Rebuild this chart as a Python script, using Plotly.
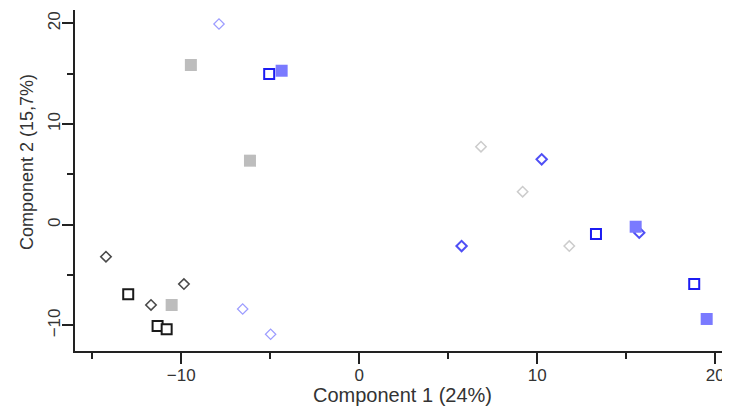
import plotly.graph_objects as go

# Component 1 / Component 2 scores per group
black_sq_x = [-12.98, -11.33, -10.82]
black_sq_y = [-6.91, -10.06, -10.39]

dgray_dia_x = [-14.23, -9.85, -11.70]
dgray_dia_y = [-3.18, -5.89, -7.97]

lgray_sq_x = [-9.46, -6.14, -10.54]
lgray_sq_y = [15.86, 6.36, -7.97]

lgray_dia_x = [6.84, 9.18, 11.80]
lgray_dia_y = [7.75, 3.28, -2.12]

lav_dia_x = [-7.88, -6.55, -4.98]
lav_dia_y = [19.93, -8.37, -10.88]

blue_dia_x = [10.25, 5.75, 15.73]
blue_dia_y = [6.49, -2.12, -0.79]

blue_fill_sq_x = [-4.36, 15.53, 19.52]
blue_fill_sq_y = [15.29, -0.20, -9.36]

blue_open_sq_x = [-5.06, 13.30, 18.82]
blue_open_sq_y = [14.97, -0.92, -5.89]

x_title = "Component 1 (24%)"
y_title = "Component 2 (15,7%)"

FONT = "Liberation Sans, Arial, sans-serif"

fig = go.Figure()

def add(x, y, symbol, size, fill, line_color, line_width):
    fig.add_trace(go.Scatter(
        x=x, y=y, mode="markers", showlegend=False,
        marker=dict(symbol=symbol, size=size, color=fill,
                    line=dict(color=line_color, width=line_width)),
    ))

add(lgray_dia_x, lgray_dia_y, "diamond", 8, "white", "#cccccc", 1.5)
add(lav_dia_x, lav_dia_y, "diamond", 8, "white", "#9c9cff", 1.2)
add(dgray_dia_x, dgray_dia_y, "diamond", 8, "white", "#4a4a4a", 1.6)
add(lgray_sq_x, lgray_sq_y, "square", 12, "#bdbdbd", "#bdbdbd", 0)
add(blue_dia_x, blue_dia_y, "diamond", 8, "white", "#4f4ff5", 2)
add(blue_fill_sq_x, blue_fill_sq_y, "square", 12, "#7a7aff", "#7a7aff", 0)
add(blue_open_sq_x, blue_open_sq_y, "square", 10, "white", "#1c1cf2", 2)
add(black_sq_x, black_sq_y, "square", 10, "white", "#1a1a1a", 2)

axis_common = dict(
    showgrid=False, zeroline=False, showline=True, linecolor="#222",
    linewidth=1.5, ticks="outside", ticklen=11, tickwidth=1.5, tickcolor="#222",
    dtick=10, tick0=0, automargin=False,
    minor=dict(ticks="outside", ticklen=6, tickwidth=1.5, tickcolor="#222", dtick=5, tick0=0),
    tickfont=dict(family=FONT, size=17, color="#333"),
)

# the page body has an 8px default margin, so the figure is sized to fit
fig.update_layout(
    width=722, height=398,
    margin=dict(l=67, r=0, t=2, b=55),
    paper_bgcolor="white", plot_bgcolor="white",
    font=dict(family=FONT, color="#333"),
    xaxis=dict(range=[-15.97, 20.83], ticklabelstandoff=-3,
               title=dict(text=x_title, font=dict(size=20), standoff=3), **axis_common),
    yaxis=dict(range=[-12.54, 21.32], tickangle=-90, ticklabelstandoff=-5, **axis_common),
    annotations=[dict(
        text=y_title, xref="paper", yref="paper", x=-0.0733, y=0.554,
        xanchor="center", yanchor="middle", textangle=-90, showarrow=False,
        font=dict(family=FONT, size=18, color="#333"),
    )],
)

fig.write_html("out.html")
